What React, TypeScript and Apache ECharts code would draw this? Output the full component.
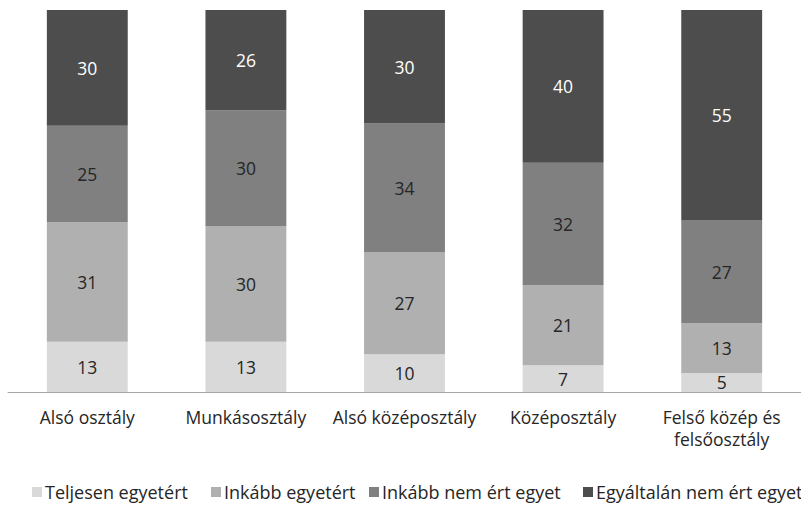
import React, { useEffect, useRef } from "react";
import * as echarts from "echarts";

const categories = ["Alsó osztály", "Munkásosztály", "Alsó középosztály", "Középosztály", "Felső közép és\nfelsőosztály"];
const seriesNames = ["Teljesen egyetért", "Inkább egyetért", "Inkább nem ért egyet", "Egyáltalán nem ért egyet"];
const teljesen = [13, 13, 10, 7, 5];
const inkabbEgyet = [31, 30, 27, 21, 13];
const inkabbNem = [25, 30, 34, 32, 27];
const egyaltalan = [30, 26, 30, 40, 55];
const colors = ["#d9d9d9", "#b0b0b0", "#808080", "#4d4d4d"];
const labelColors = ["#262626", "#262626", "#262626", "#ffffff"];

export default function App() {
  const ref = useRef<HTMLDivElement>(null);
  useEffect(() => {
    if (!ref.current) return;
    const chart = echarts.init(ref.current, null, { renderer: "svg" });
    const raw = [teljesen, inkabbEgyet, inkabbNem, egyaltalan];
    const totals = categories.map((_, i) => raw.reduce((s, arr) => s + arr[i], 0));
    const font = "'Open Sans', 'Noto Sans', sans-serif";
    const legendLefts = [32, 211, 369, 583];
    chart.setOption({
      animation: false,
      grid: { left: 8, right: -7, top: 10, bottom: 113, containLabel: false },
      xAxis: {
        type: "category",
        data: categories,
        axisLine: { lineStyle: { color: "#a6a6a6", width: 1 } },
        axisTick: { show: false },
        axisLabel: { color: "#262626", fontSize: 17.5, fontFamily: font, margin: 14, lineHeight: 22, interval: 0 },
      },
      yAxis: { type: "value", min: 0, max: 100, show: false, splitLine: { show: false } },
      legend: seriesNames.map((n, i) => ({
        data: [n],
        left: legendLefts[i],
        top: 483,
        itemWidth: 10,
        itemHeight: 10,
        itemGap: 0,
        padding: 0,
        icon: "rect",
        textStyle: { color: "#262626", fontSize: 18, fontFamily: font, padding: [0, 0, 0, -2] },
      })),
      series: raw.map((arr, si) => ({
        name: seriesNames[si],
        type: "bar",
        stack: "total",
        barWidth: "51%",
        itemStyle: { color: colors[si] },
        label: {
          show: true,
          position: "inside",
          color: labelColors[si],
          fontSize: 17.5,
          fontFamily: font,
          formatter: (p: any) => String(arr[p.dataIndex]),
        },
        data: arr.map((v, i) => (v / totals[i]) * 100),
      })),
    });
    return () => chart.dispose();
  }, []);
  return <div ref={ref} style={{ width: 801, height: 505, position: "absolute", left: 0, top: 0 }} />;
}
